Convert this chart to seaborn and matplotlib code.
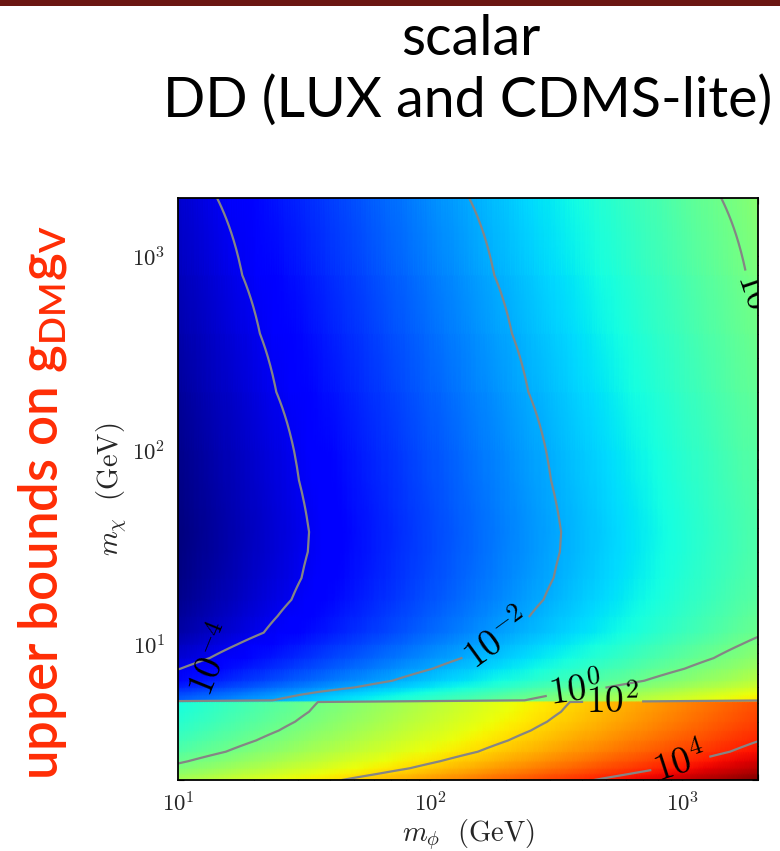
import numpy as np
import matplotlib
matplotlib.use("Agg")
import matplotlib.pyplot as plt
from matplotlib.colors import LogNorm
from matplotlib.patches import Rectangle
from matplotlib.ticker import LogLocator, FuncFormatter, NullFormatter
import seaborn as sns

# Dark-matter mass rows (GeV) and log10 of the upper bound on g_DM g_V
# at m_phi = 10 GeV; the step near 5.1 GeV is the LUX / CDMS-lite switch.
m_chi_gev = [2.0, 2.15, 2.3, 2.5, 2.8, 3.2, 3.6, 4.0, 4.5, 5.05,
             5.15, 5.5, 5.7, 6.0, 6.5, 7.5, 8.5, 10, 11.5, 14, 17, 22,
             30, 38, 50, 70, 100, 200, 400, 800, 2000]
log_bound_10gev = [0.70, 0.42, 0.16, -0.08, -0.38, -0.62, -0.80, -0.93, -1.04, -1.11,
                   -2.75, -2.97, -3.12, -3.40, -3.70, -4.02, -4.25, -4.47, -4.68, -4.79,
                   -4.90, -4.98, -5.03, -5.04, -5.01, -4.96, -4.92, -4.78, -4.65, -4.51,
                   -4.31]
# heavy-mediator scaling of the bound: g_DM g_V grows as m_phi^2
mphi_power = 2.0
m_phi_range = (10, 2000)
m_chi_range = (2, 2000)

contour_levels = [-4, -2, 0, 2, 4]
# (m_phi, m_chi) spot, text angle (None = follow the line), break the line
label_spots = {
    -4: [((13.9, 8.3), 68, False)],
    -2: [((190, 9.9), 36, True)],
    0: [((378, 5.96), None, True), ((1900, 600), None, True)],
    2: [((530, 5.1), None, True)],
    4: [((986, 2.4), 18, True)],
}

sns.set_theme(style="ticks")
plt.rcParams["mathtext.fontset"] = "cm"
plt.rcParams["font.family"] = ["DejaVu Sans"]

m_phi = np.geomspace(*m_phi_range, 240)
m_chi = np.asarray(m_chi_gev, dtype=float)
log_g = np.asarray(log_bound_10gev)[:, None] + mphi_power * np.log10(m_phi / 10.0)[None, :]
bound = 10.0 ** log_g
PHI, CHI = np.meshgrid(m_phi, m_chi)

fig = plt.figure(figsize=(7.8, 8.51), dpi=100)
fig.patch.set_facecolor("white")

# thin maroon band along the top edge
fig.add_artist(Rectangle((0, 1 - 6 / 851), 1, 6 / 851, transform=fig.transFigure,
                         facecolor="#6b1612", edgecolor="none"))

fig.text(0.603, 0.953, "scalar", ha="center", va="center",
         fontsize=40, family="Lato", color="black")
fig.text(0.600, 0.882, "DD (LUX and CDMS-lite)", ha="center", va="center",
         fontsize=40, family="Lato", color="black")

fig.text(0.055, 0.41, r"upper bounds on $\mathregular{g_{DM}g_{V}}$", rotation=90,
         ha="center", va="center", fontsize=38, family="Lato", weight="semibold",
         color="#ff2d05")

ax = fig.add_axes([0.2282, 0.0834, 0.7436, 0.6839])
ax.set_xscale("log")
ax.set_yscale("log")

cmap = matplotlib.colormaps["jet"]
norm = LogNorm(vmin=bound.min(), vmax=bound.max())
ax.pcolormesh(PHI, CHI, bound, shading="gouraud", cmap=cmap, norm=norm, rasterized=True)

for lv in contour_levels:
    cs = ax.contour(PHI, CHI, log_g, levels=[lv], colors="#858585",
                    linewidths=1.6, linestyles="solid")
    for pos, angle, inline in label_spots[lv]:
        txts = cs.clabel(levels=[lv], manual=[pos], inline=inline, inline_spacing=3,
                         fontsize=27, colors="black", fmt={lv: r"$10^{%d}$" % lv})
        t = txts[-1]
        if angle is not None:
            t.set_rotation(angle)
        if not inline:
            t.set_position(pos)
        t.set_clip_on(True)
        t.set_clip_box(ax.bbox)

ax.set_xlim(*m_phi_range)
ax.set_ylim(*m_chi_range)

fmt = FuncFormatter(lambda v, p: r"$\mathrm{10^{%d}}$" % int(round(np.log10(v))))
for axis in (ax.xaxis, ax.yaxis):
    axis.set_major_locator(LogLocator(base=10))
    axis.set_minor_locator(LogLocator(base=10, subs=np.arange(2, 10)))
    axis.set_major_formatter(fmt)
    axis.set_minor_formatter(NullFormatter())

ax.tick_params(which="both", direction="in", top=True, right=True, color="black")
ax.tick_params(which="major", length=8, width=1.0, labelsize=16.5, pad=9)
ax.tick_params(which="minor", length=4, width=0.8)
for s in ax.spines.values():
    s.set_color("black")
    s.set_linewidth(1.3)

ax.set_xlabel(r"$m_\phi\ \ \mathrm{(GeV)}$", fontsize=20.5)
ax.set_ylabel(r"$m_\chi\ \ \mathrm{(GeV)}$", fontsize=20.5)
ax.xaxis.set_label_coords(0.5, -0.064)
ax.yaxis.set_label_coords(-0.085, 0.5)

fig.savefig("out.png", dpi=100, facecolor="white")
